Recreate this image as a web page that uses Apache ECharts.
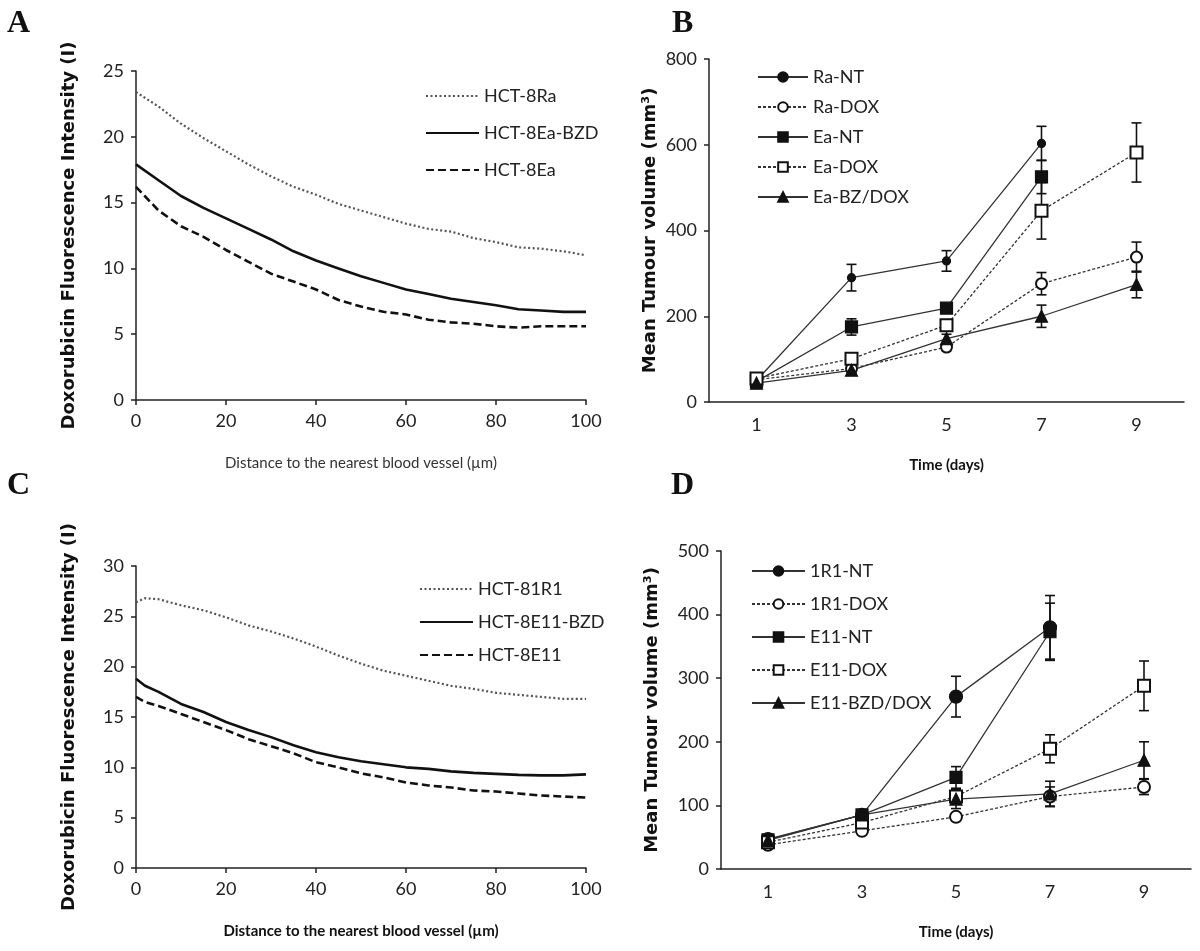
<!DOCTYPE html>
<html>
<head>
<meta charset="utf-8">
<script src="https://cdn.jsdelivr.net/npm/echarts@6/dist/echarts.min.js"></script>
<style>
  html, body { margin: 0; padding: 0; background: #fff; }
  #chart { width: 1200px; height: 951px; }
</style>
</head>
<body>
<div id="chart"></div>
<script>
// panel A / C : distance to vessel (µm)
const distA = [0, 5, 10, 15, 20, 25, 30, 35, 40, 45, 50, 55, 60, 65, 70, 75, 80, 85, 90, 95, 100]
const hct8Ra = [23.4, 22.3, 21.0, 19.9, 18.9, 17.9, 17.0, 16.2, 15.6, 14.9, 14.4, 13.9, 13.4, 13.0, 12.8, 12.3, 12.0, 11.6, 11.5, 11.3, 11.0]
const hct8EaBZD = [17.9, 16.7, 15.5, 14.6, 13.8, 13.0, 12.2, 11.3, 10.6, 10.0, 9.4, 8.9, 8.4, 8.05, 7.7, 7.45, 7.2, 6.9, 6.8, 6.7, 6.7]
const hct8Ea = [16.2, 14.4, 13.2, 12.4, 11.4, 10.5, 9.6, 9.0, 8.4, 7.6, 7.1, 6.7, 6.5, 6.1, 5.9, 5.8, 5.6, 5.5, 5.6, 5.6, 5.6]

const distC = [0, 2, 5, 10, 15, 20, 25, 30, 35, 40, 45, 50, 55, 60, 65, 70, 75, 80, 85, 90, 95, 100]
const hct81R1 = [26.4, 26.8, 26.7, 26.1, 25.6, 24.9, 24.1, 23.5, 22.8, 22.0, 21.1, 20.3, 19.6, 19.1, 18.6, 18.1, 17.8, 17.4, 17.2, 17.0, 16.8, 16.8]
const hct8E11BZD = [18.8, 18.1, 17.5, 16.3, 15.5, 14.5, 13.7, 13.0, 12.2, 11.5, 11.0, 10.6, 10.3, 10.0, 9.85, 9.6, 9.45, 9.35, 9.25, 9.2, 9.2, 9.3]
const hct8E11 = [17.0, 16.5, 16.1, 15.3, 14.5, 13.7, 12.8, 12.1, 11.4, 10.5, 10.0, 9.4, 9.0, 8.5, 8.2, 8.0, 7.7, 7.6, 7.4, 7.2, 7.1, 7.0]

// panel B / D : tumour volume (mm3) by day
const days = ['1', '3', '5', '7', '9']
const raNT = [50, 290, 329, 603, null]
const raNTErr = [5, 31, 24, 40, 0]
const raDOX = [52, 78, 128, 276, 338]
const raDOXErr = [5, 6, 8, 26, 35]
const eaNT = [48, 175, 219, 525, null]
const eaNTErr = [5, 19, 10, 39, 0]
const eaDOX = [55, 101, 179, 446, 582]
const eaDOXErr = [5, 8, 10, 66, 69]
const eaBZDOX = [44, 74, 148, 200, 274]
const eaBZDOXErr = [5, 6, 10, 26, 31]

const r1NT = [47, 85, 271, 380, null]
const r1NTErr = [5, 8, 32, 50, 0]
const r1DOX = [38, 60, 82, 114, 129]
const r1DOXErr = [4, 5, 6, 15, 12]
const e11NT = [46, 85, 144, 373, null]
const e11NTErr = [5, 8, 17, 45, 0]
const e11DOX = [42, 73, 114, 189, 288]
const e11DOXErr = [4, 6, 10, 22, 39]
const e11BZDDOX = [45, 85, 110, 118, 171]
const e11BZDDOXErr = [4, 8, 15, 20, 29]

const FONT = 'Lato'
const TITLE_FONT = 'DejaVu Sans'

function pairs (xs, ys) {
  return xs.map((x, i) => [x, ys[i]])
}

function profile (name, idx, xs, ys, kind) {
  const styles = {
    dotted: { color: '#555', width: 2.2, type: [2, 2.5] },
    solid: { color: '#111', width: 2.6, type: 'solid' },
    dashed: { color: '#111', width: 2.6, type: [8, 4] }
  }
  return {
    name: name,
    type: 'line',
    xAxisIndex: idx,
    yAxisIndex: idx,
    symbol: 'none',
    smooth: false,
    itemStyle: { color: styles[kind].color },
    lineStyle: styles[kind],
    data: pairs(xs, ys)
  }
}

function growth (name, idx, values, symbol, size, dashed) {
  return {
    name: name,
    type: 'line',
    xAxisIndex: idx,
    yAxisIndex: idx,
    symbol: symbol,
    symbolSize: size,
    showAllSymbol: true,
    z: 3,
    itemStyle: { color: '#111', borderColor: '#111', borderWidth: 1.2 },
    lineStyle: { color: '#333', width: 1.3, type: dashed ? [3, 2] : 'solid' },
    data: values
  }
}

function errorBars (idx, values, errs) {
  const data = []
  values.forEach((v, i) => {
    if (v != null && errs[i] > 0) data.push([i, v, errs[i]])
  })
  return {
    type: 'custom',
    xAxisIndex: idx,
    yAxisIndex: idx,
    z: 1,
    silent: true,
    encode: { x: 0, y: 1 },
    renderItem: function (params, api) {
      const x = api.value(0)
      const y = api.value(1)
      const e = api.value(2)
      const top = api.coord([x, y + e])
      const bot = api.coord([x, y - e])
      const st = { stroke: '#111', lineWidth: 1.6 }
      return {
        type: 'group',
        children: [
          { type: 'line', shape: { x1: top[0], y1: top[1], x2: bot[0], y2: bot[1] }, style: st },
          { type: 'line', shape: { x1: top[0] - 5, y1: top[1], x2: top[0] + 5, y2: top[1] }, style: st },
          { type: 'line', shape: { x1: bot[0] - 5, y1: bot[1], x2: bot[0] + 5, y2: bot[1] }, style: st }
        ]
      }
    },
    data: data
  }
}

const axisLine = { lineStyle: { color: '#222', width: 1.5 } }
const axisTick = { length: 5, lineStyle: { color: '#222', width: 1.5 } }
const tickLabel = { color: '#222', fontSize: 18, fontFamily: FONT }

function valueX (idx, name, bold) {
  return {
    type: 'value', gridIndex: idx, min: 0, max: 100, interval: 20,
    name: name, nameLocation: 'middle', nameGap: 56,
    nameTextStyle: { color: bold ? '#111' : '#333', fontSize: 15, fontWeight: bold ? 'bold' : 'normal', fontFamily: FONT },
    axisLine: axisLine, axisTick: axisTick, splitLine: { show: false },
    axisLabel: Object.assign({ margin: 12 }, tickLabel)
  }
}

function catX (idx) {
  return {
    type: 'category', gridIndex: idx, data: days, boundaryGap: true,
    name: 'Time (days)', nameLocation: 'middle', nameGap: 56,
    nameTextStyle: { color: '#111', fontSize: 15, fontWeight: 'bold', fontFamily: FONT },
    axisLine: axisLine, axisTick: Object.assign({ alignWithLabel: false }, axisTick),
    axisLabel: Object.assign({ margin: 14 }, tickLabel)
  }
}

function valueY (idx, max, interval, name, gap) {
  return {
    type: 'value', gridIndex: idx, min: 0, max: max, interval: interval,
    name: name, nameLocation: 'middle', nameGap: gap, nameRotate: 90,
    nameTextStyle: { color: '#111', fontSize: 18, fontWeight: 'bold', fontFamily: TITLE_FONT },
    axisLine: Object.assign({ show: true }, axisLine), axisTick: Object.assign({ show: true }, axisTick),
    splitLine: { show: false },
    axisLabel: Object.assign({ margin: 12 }, tickLabel)
  }
}

function legendAt (names, left, top, gap, width, lineOnly) {
  const lg = {
    data: names, orient: 'vertical', left: left, top: top,
    itemWidth: width, itemHeight: 12, itemGap: gap,
    textStyle: { color: '#222', fontSize: 18, fontFamily: FONT }
  }
  // profile curves carry no markers, so their keys are plain line samples
  if (lineOnly) lg.itemStyle = { opacity: 0 }
  return lg
}

function panelLetter (text, left, top) {
  return {
    text: text, left: left, top: top, padding: 0,
    textStyle: { fontFamily: 'Liberation Serif', fontWeight: 'bold', fontSize: 32, color: '#111' }
  }
}

const chart = echarts.init(document.getElementById('chart'), null, { renderer: 'canvas' })

const option = {
  backgroundColor: '#fff',
  animation: false,
  title: [
    panelLetter('A', 7, 8),
    panelLetter('B', 672, 8),
    panelLetter('C', 7, 470),
    panelLetter('D', 671, 470)
  ],
  grid: [
    { left: 136, top: 71, width: 450, height: 329 },
    { left: 709, top: 59, width: 475, height: 343 },
    { left: 136, top: 566, width: 450, height: 302 },
    { left: 721, top: 551, width: 470, height: 318 }
  ],
  xAxis: [
    valueX(0, 'Distance to the nearest blood vessel (µm)', false),
    catX(1),
    valueX(2, 'Distance to the nearest blood vessel (µm)', true),
    catX(3)
  ],
  yAxis: [
    valueY(0, 25, 5, 'Doxorubicin Fluorescence Intensity (I)', 58),
    valueY(1, 800, 200, 'Mean Tumour volume (mm³)', 50),
    valueY(2, 30, 5, 'Doxorubicin Fluorescence Intensity (I)', 58),
    valueY(3, 500, 100, 'Mean Tumour volume (mm³)', 60)
  ],
  legend: [
    legendAt(['HCT-8Ra', 'HCT-8Ea-BZD', 'HCT-8Ea'], 420, 82, 19, 53, true),
    legendAt(['Ra-NT', 'Ra-DOX', 'Ea-NT', 'Ea-DOX', 'Ea-BZ/DOX'], 752, 63, 12, 50, false),
    legendAt(['HCT-81R1', 'HCT-8E11-BZD', 'HCT-8E11'], 414, 575, 15, 53, true),
    legendAt(['1R1-NT', '1R1-DOX', 'E11-NT', 'E11-DOX', 'E11-BZD/DOX'], 746, 557, 15, 53, false)
  ],
  series: [
    profile('HCT-8Ra', 0, distA, hct8Ra, 'dotted'),
    profile('HCT-8Ea-BZD', 0, distA, hct8EaBZD, 'solid'),
    profile('HCT-8Ea', 0, distA, hct8Ea, 'dashed'),

    profile('HCT-81R1', 2, distC, hct81R1, 'dotted'),
    profile('HCT-8E11-BZD', 2, distC, hct8E11BZD, 'solid'),
    profile('HCT-8E11', 2, distC, hct8E11, 'dashed'),

    errorBars(1, raNT, raNTErr),
    errorBars(1, raDOX, raDOXErr),
    errorBars(1, eaNT, eaNTErr),
    errorBars(1, eaDOX, eaDOXErr),
    errorBars(1, eaBZDOX, eaBZDOXErr),
    growth('Ra-NT', 1, raNT, 'circle', 8, false),
    growth('Ra-DOX', 1, raDOX, 'emptyCircle', 11, true),
    growth('Ea-NT', 1, eaNT, 'rect', 12, false),
    growth('Ea-DOX', 1, eaDOX, 'emptyRect', 12, true),
    growth('Ea-BZ/DOX', 1, eaBZDOX, 'triangle', 12, false),

    errorBars(3, r1NT, r1NTErr),
    errorBars(3, r1DOX, r1DOXErr),
    errorBars(3, e11NT, e11NTErr),
    errorBars(3, e11DOX, e11DOXErr),
    errorBars(3, e11BZDDOX, e11BZDDOXErr),
    growth('1R1-NT', 3, r1NT, 'circle', 13, false),
    growth('1R1-DOX', 3, r1DOX, 'emptyCircle', 12, true),
    growth('E11-NT', 3, e11NT, 'rect', 12, false),
    growth('E11-DOX', 3, e11DOX, 'emptyRect', 12, true),
    growth('E11-BZD/DOX', 3, e11BZDDOX, 'triangle', 12, false)
  ]
}

chart.setOption(option)
</script>
</body>
</html>
